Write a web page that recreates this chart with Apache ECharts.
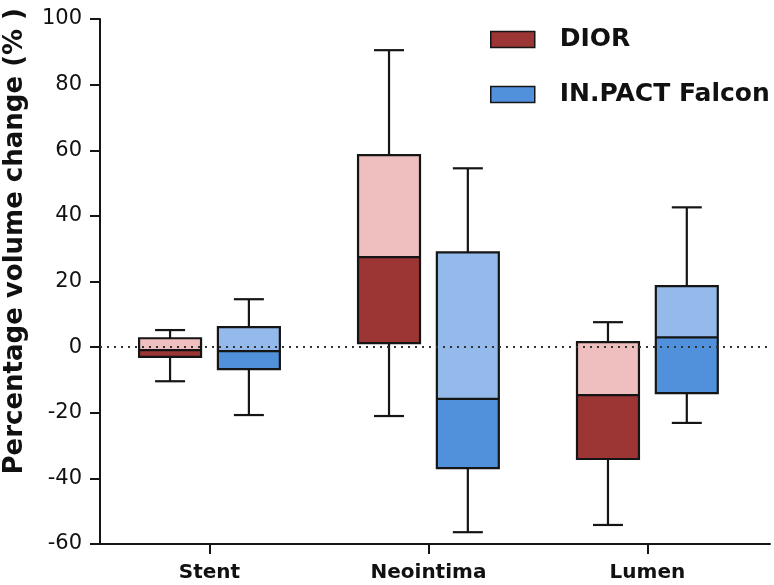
<!DOCTYPE html>
<html>
<head>
<meta charset="utf-8">
<script src="https://cdn.jsdelivr.net/npm/echarts@6/dist/echarts.min.js"></script>
<style>
html,body{margin:0;padding:0;background:#fff;}
#chart{width:774px;height:585px;}
</style>
</head>
<body>
<div id="chart"></div>
<script>
const categories = ['Stent', 'Neointima', 'Lumen'];
const seriesNames = ['DIOR', 'IN.PACT Falcon'];
const yTicks = [-60, -40, -20, 0, 20, 40, 60, 80, 100];

const diorMin    = [-10.4, -21.0, -54.2];
const diorQ1     = [-3.0,   1.2,  -34.1];
const diorMedian = [-0.9,  27.4,  -14.6];
const diorQ3     = [2.7,   58.5,    1.5];
const diorMax    = [5.2,   90.5,    7.6];

const falconMin    = [-20.7, -56.4, -23.1];
const falconQ1     = [-6.7,  -36.9, -14.0];
const falconMedian = [-1.2,  -15.8,   3.0];
const falconQ3     = [6.1,    28.9,  18.6];
const falconMax    = [14.6,   54.5,  42.6];

const colors = {
  dior:   { dark: '#9B3634', light: '#EFBFBF' },
  falcon: { dark: '#5190DB', light: '#93BAEB' }
};

function buildData(mins, q1s, meds, q3s, maxs) {
  return categories.map((c, i) => [i + 0.5, mins[i], q1s[i], meds[i], q3s[i], maxs[i]]);
}

function makeRenderer(offset, dark, light) {
  const boxW = 0.283, capW = 0.137;
  return function (params, api) {
    const x = api.value(0);
    const unit = api.size([1, 0])[0];
    const cx = api.coord([x, 0])[0] + offset * unit;
    const yMin = api.coord([x, api.value(1)])[1];
    const yQ1 = api.coord([x, api.value(2)])[1];
    const yMed = api.coord([x, api.value(3)])[1];
    const yQ3 = api.coord([x, api.value(4)])[1];
    const yMax = api.coord([x, api.value(5)])[1];
    const hw = boxW * unit / 2, hc = capW * unit / 2;
    const stroke = { stroke: '#151515', lineWidth: 2.2, fill: null };
    return {
      type: 'group',
      children: [
        { type: 'line', shape: { x1: cx, y1: yQ3, x2: cx, y2: yMax }, style: stroke },
        { type: 'line', shape: { x1: cx, y1: yQ1, x2: cx, y2: yMin }, style: stroke },
        { type: 'line', shape: { x1: cx - hc, y1: yMax, x2: cx + hc, y2: yMax }, style: stroke },
        { type: 'line', shape: { x1: cx - hc, y1: yMin, x2: cx + hc, y2: yMin }, style: stroke },
        { type: 'rect', shape: { x: cx - hw, y: yQ3, width: 2 * hw, height: yMed - yQ3 }, style: { fill: light } },
        { type: 'rect', shape: { x: cx - hw, y: yMed, width: 2 * hw, height: yQ1 - yMed }, style: { fill: dark } },
        { type: 'rect', shape: { x: cx - hw, y: yQ3, width: 2 * hw, height: yQ1 - yQ3 }, style: stroke },
        { type: 'line', shape: { x1: cx - hw, y1: yMed, x2: cx + hw, y2: yMed }, style: stroke }
      ]
    };
  };
}

const chart = echarts.init(document.getElementById('chart'), null, { renderer: 'canvas' });
const tickPositions = categories.map((c, i) => i + 0.5);

chart.setOption({
  animation: false,
  backgroundColor: '#fff',
  grid: { left: 100, right: 4, top: 19, bottom: 41 },
  legend: {
    orient: 'vertical',
    left: 485,
    top: 22,
    itemWidth: 44,
    itemHeight: 16,
    itemGap: 30,
    icon: 'rect',
    itemStyle: { borderColor: '#151515', borderWidth: 1.5 },
    textStyle: { fontFamily: 'DejaVu Sans', fontWeight: 'bold', fontSize: 25, color: '#111', padding: [0, 0, 0, 20] },
    data: seriesNames
  },
  xAxis: {
    type: 'value',
    min: 0,
    max: 3.06,
    splitLine: { show: false },
    axisLine: { show: true, onZero: false, lineStyle: { color: '#151515', width: 2 } },
    axisTick: { show: true, customValues: tickPositions, length: 10, lineStyle: { color: '#151515', width: 2 } },
    axisLabel: {
      customValues: tickPositions,
      formatter: v => categories[Math.round(v - 0.5)] || '',
      fontFamily: 'DejaVu Sans', fontWeight: 'bold', fontSize: 20, color: '#111', margin: 19
    }
  },
  yAxis: {
    type: 'value',
    min: -60,
    max: 100,
    interval: 20,
    splitLine: { show: false },
    axisLine: { show: true, lineStyle: { color: '#151515', width: 2 } },
    axisTick: { show: true, length: 10, lineStyle: { color: '#151515', width: 2 } },
    axisLabel: { fontFamily: 'DejaVu Sans', fontSize: 21, color: '#111', margin: 18 }
  },
  graphic: [{
    type: 'text',
    left: 2,
    top: 8,
    rotation: Math.PI / 2,
    style: { text: 'Percentage volume change (% )', font: 'bold 26px "DejaVu Sans"', fill: '#111' }
  }],
  series: [
    {
      name: seriesNames[0],
      type: 'custom',
      color: colors.dior.dark,
      itemStyle: { color: colors.dior.dark },
      encode: { x: 0, y: [1, 2, 3, 4, 5] },
      renderItem: makeRenderer(-0.18, colors.dior.dark, colors.dior.light),
      data: buildData(diorMin, diorQ1, diorMedian, diorQ3, diorMax),
      markLine: {
        silent: true,
        symbol: 'none',
        label: { show: false },
        lineStyle: { color: '#333', width: 2, type: [2, 5] },
        data: [{ yAxis: 0 }]
      },
      z: 3
    },
    {
      name: seriesNames[1],
      type: 'custom',
      color: colors.falcon.dark,
      itemStyle: { color: colors.falcon.dark },
      encode: { x: 0, y: [1, 2, 3, 4, 5] },
      renderItem: makeRenderer(0.18, colors.falcon.dark, colors.falcon.light),
      data: buildData(falconMin, falconQ1, falconMedian, falconQ3, falconMax),
      z: 3
    }
  ]
});
</script>
</body>
</html>
